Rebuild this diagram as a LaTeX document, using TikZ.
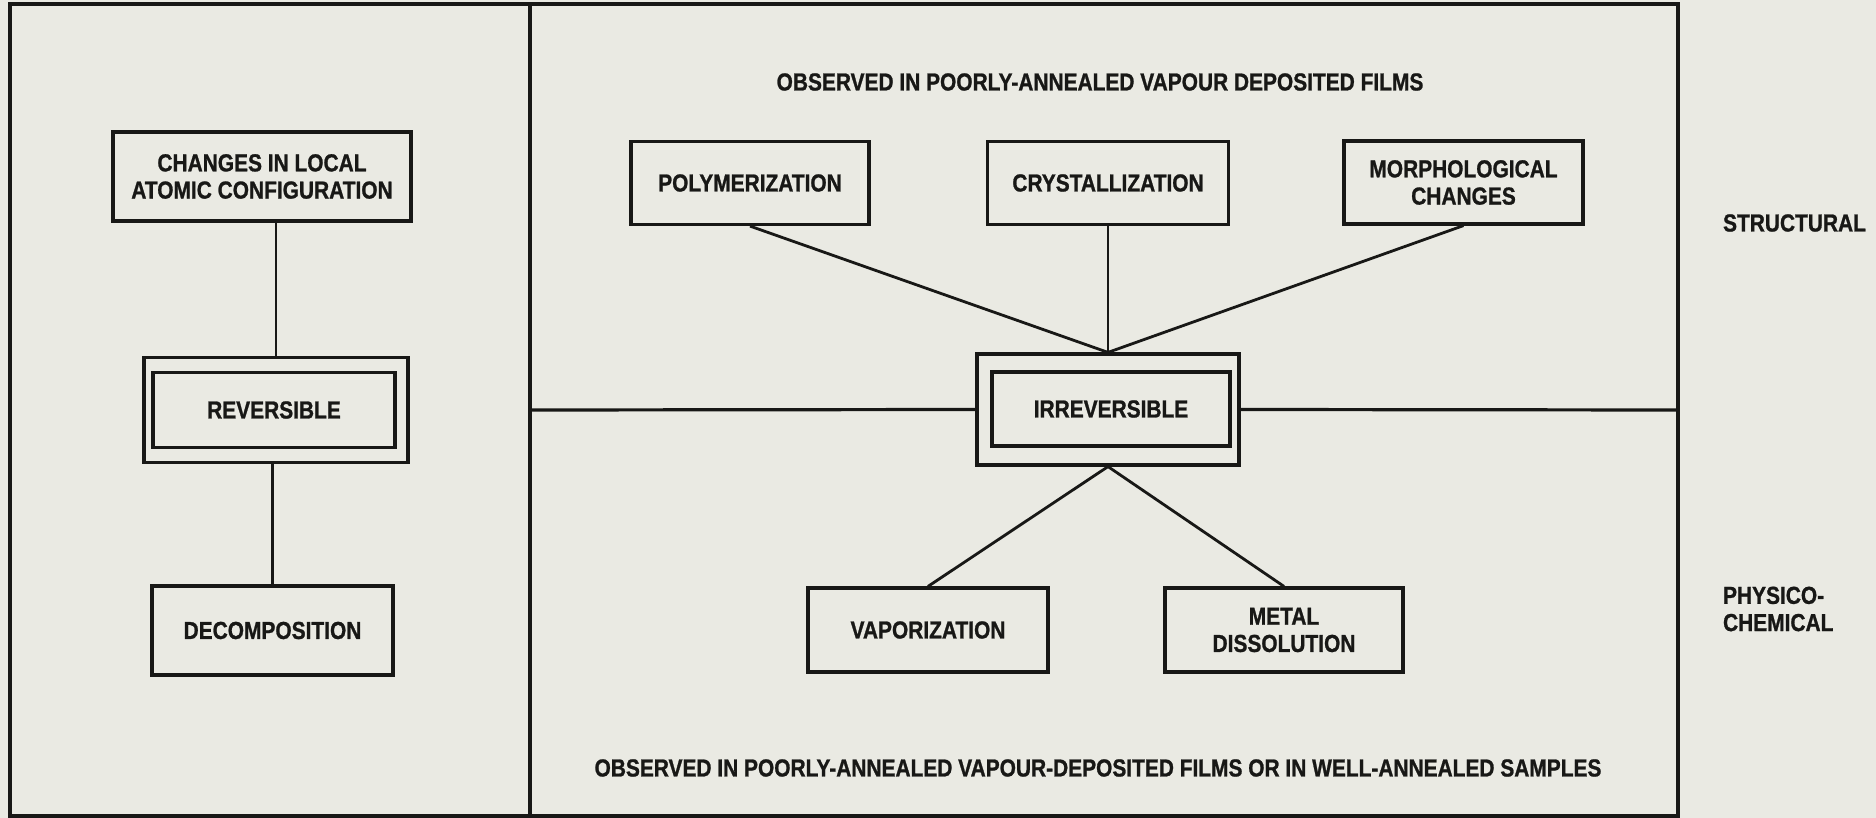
\documentclass[tikz,border=0pt]{standalone}
\usepackage{fontspec}
\setmainfont{Liberation Sans}[FakeStretch=0.85, FakeBold=1]
\definecolor{paper}{RGB}{234,234,227}
\definecolor{ink}{RGB}{24,24,22}

\begin{document}
\begin{tikzpicture}[x=0.5pt,y=-0.5pt,
		every node/.style={font=\fontsize{12.3}{13.6}\selectfont\bfseries, text=ink},
		box/.style={draw=ink, line width=1.6pt, align=center, inner sep=0pt},
		link/.style={draw=ink, line width=1.4pt}]
		\useasboundingbox[fill=paper] (0,0) rectangle (1876,818);
		% frame and dividers
		\draw[ink, line width=1.6pt] (10,4) rectangle (1678,816);
		\draw[ink, line width=1.6pt] (530,4) -- (530,816);
		\coordinate (midL) at (530,410);
		\coordinate (midR) at (1678,410);
		% left part
		\node[box, minimum width=149pt, minimum height=44.5pt] (changes) at (262,176.5) {CHANGES IN LOCAL\\ATOMIC CONFIGURATION};
		\node[box, minimum width=121pt, minimum height=37.5pt] (revin) at (274,410) {REVERSIBLE};
		\node[box, minimum width=132pt, minimum height=52.5pt] (revout) at (276,410) {};
		\node[box, minimum width=120.5pt, minimum height=44.5pt] (decomp) at (272.5,630.5) {DECOMPOSITION};
		\draw[link] (revout.north) -- (revout.north |- changes.south);
		\draw[link] (decomp.north) -- (decomp.north |- revout.south);
		% right part
		\node (title) at (1100,82) {OBSERVED IN POORLY-ANNEALED VAPOUR DEPOSITED FILMS};
		\node[box, minimum width=119pt, minimum height=41.5pt] (poly) at (750,183) {POLYMERIZATION};
		\node[box, minimum width=120.5pt, minimum height=41.5pt] (cryst) at (1108,183) {CRYSTALLIZATION};
		\node[box, minimum width=119.5pt, minimum height=41.5pt] (morph) at (1463.5,182.5) {MORPHOLOGICAL\\CHANGES};
		\node[box, minimum width=119pt, minimum height=37pt] (irrin) at (1111,409) {IRREVERSIBLE};
		\node[box, minimum width=131pt, minimum height=55.5pt] (irrout) at (1108,409.5) {};
		\node[box, minimum width=120pt, minimum height=42pt] (vapor) at (928,630) {VAPORIZATION};
		\node[box, minimum width=119pt, minimum height=42pt] (metal) at (1284,630) {METAL\\DISSOLUTION};
		\node (bottom) at (1098,768) {OBSERVED IN POORLY-ANNEALED VAPOUR-DEPOSITED FILMS OR IN WELL-ANNEALED SAMPLES};
		\draw[link] (poly.south) -- (irrout.north);
		\draw[link] (cryst.south) -- (irrout.north);
		\draw[link] (morph.south) -- (irrout.north);
		\draw[link] (vapor.north) -- (irrout.south);
		\draw[link] (metal.north) -- (irrout.south);
		\draw[ink, line width=1.6pt] (midL) -- (irrout.west);
		\draw[ink, line width=1.6pt] (irrout.east) -- (midR);
		% side labels
		\node[anchor=west] (struct) at (1716,223) {STRUCTURAL};
		\node[anchor=west, align=left] (physchem) at (1716,609) {PHYSICO-\\CHEMICAL};
	\end{tikzpicture}
\end{document}
